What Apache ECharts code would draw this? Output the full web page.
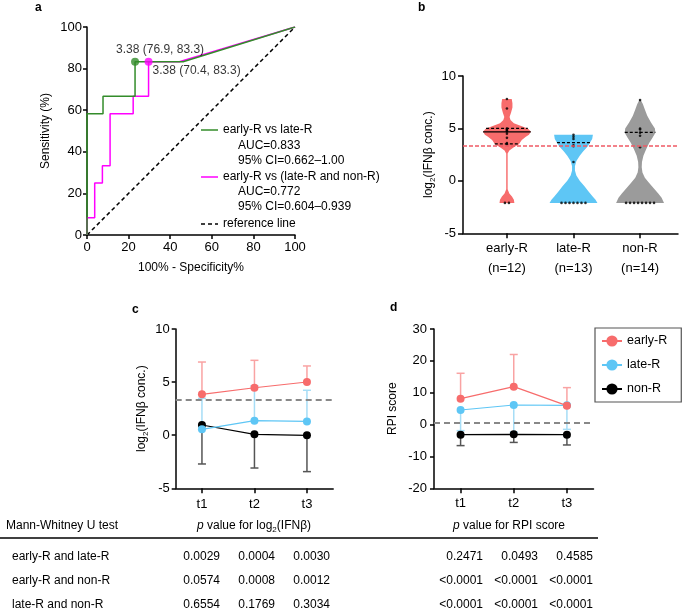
<!DOCTYPE html>
<html><head><meta charset="utf-8">
<script src="https://cdn.jsdelivr.net/npm/echarts@6/dist/echarts.min.js"></script>
<style>html,body{margin:0;padding:0;background:#fff}#c{width:685px;height:616px}</style>
</head><body><div id="c"></div>
<script>
// ---------------- DATA ----------------
// Panel a: ROC curves (x = 100% - specificity, y = sensitivity)
const rocGreenFpr  = [0, 0, 7.7, 7.7, 23.1, 23.1, 46.2, 100];
const rocGreenSens = [0, 58.3, 58.3, 66.7, 66.7, 83.3, 83.3, 100];
const rocMagFpr    = [0, 0, 3.7, 3.7, 7.4, 7.4, 11.1, 11.1, 22.2, 22.2, 29.6, 29.6, 44.4, 100];
const rocMagSens   = [0, 8.3, 8.3, 25, 25, 33.3, 33.3, 58.3, 58.3, 66.7, 66.7, 83.3, 83.3, 100];
const cutGreen = [23.1, 83.3];
const cutMag   = [29.6, 83.3];
const cutGreenLabel = '3.38 (76.9, 83.3)';
const cutMagLabel   = '3.38 (70.4, 83.3)';
const rocTicks = [0, 20, 40, 60, 80, 100];

// Panel b: violins
const violinCats = ['early-R\n(n=12)', 'late-R\n(n=13)', 'non-R\n(n=14)'];
const violinPos  = [1, 2, 3];
const earlyPts = [7.8, 6.9, 5.0, 4.9, 4.8, 4.7, 4.5, 4.1, 3.6, 3.5, -2.1, -2.1];
const latePts  = [4.4, 4.2, 4.0, 3.4, 3.3, 1.8, -2.1, -2.1, -2.1, -2.1, -2.1, -2.1, -2.1];
const nonPts   = [7.7, 5.0, 4.9, 4.6, 4.3, 3.2, -2.1, -2.1, -2.1, -2.1, -2.1, -2.1, -2.1, -2.1];
// relative density profiles [value, density]
const earlyDens = [[7.8,0.2],[7.4,0.23],[7.0,0.23],[6.5,0.17],[6.1,0.11],[5.8,0.15],[5.5,0.29],[5.2,0.62],[5.0,0.87],[4.7,1.0],[4.4,0.92],[4.2,0.79],[3.9,0.62],[3.5,0.5],[3.2,0.29],[2.9,0.1],[2.6,0.03],[-0.8,0.03],[-1.2,0.1],[-1.5,0.21],[-1.8,0.29],[-2.1,0.31]];
const lateDens  = [[4.4,0.81],[4.0,0.78],[3.6,0.68],[3.3,0.6],[2.8,0.4],[2.4,0.26],[1.9,0.12],[1.4,0.06],[1.0,0.06],[0.5,0.12],[0.0,0.26],[-0.5,0.45],[-1.0,0.62],[-1.5,0.8],[-1.8,0.92],[-2.1,1.0]];
const nonDens   = [[7.7,0.03],[7.3,0.12],[6.8,0.2],[6.2,0.3],[5.6,0.45],[5.0,0.62],[4.6,0.64],[4.1,0.52],[3.6,0.38],[3.0,0.25],[2.4,0.14],[1.8,0.08],[1.3,0.07],[0.8,0.1],[0.3,0.2],[-0.2,0.38],[-0.7,0.57],[-1.2,0.76],[-1.6,0.9],[-2.1,1.0]];
const earlyLines = [5.0, 4.68, 3.52];
const lateLines  = [3.64];
const nonLines   = [4.63];
const cutoffIfn  = 3.38;

// Panel c: log2(IFNb) over time
const timeCats = ['t1', 't2', 't3'];
const cEarlyMean = [3.85, 4.47, 5.01], cEarlyErr = [6.89, 7.05, 6.52];
const cLateMean  = [0.55, 1.37, 1.30], cLateErr  = [3.47, 4.66, 4.23];
const cNonMean   = [0.96, 0.08, -0.01], cNonErr  = [-2.71, -3.09, -3.43];

// Panel d: RPI score over time
const dEarlyMean = [8.13, 11.9, 5.93], dEarlyErr = [16.1, 22.0, 11.6];
const dLateMean  = [4.58, 6.15, 6.05], dLateErr  = [-1.9, -2.3, -1.5];
const dNonMean   = [-3.16, -3.05, -3.16], dNonErr = [-6.6, -5.6, -6.4];
const cutoffRpi  = 0.71;

// Table
const tableRowLabels = ['early-R and late-R', 'early-R and non-R', 'late-R and non-R'];
const pIfn = [['0.0029','0.0004','0.0030'],['0.0574','0.0008','0.0012'],['0.6554','0.1769','0.3034']];
const pRpi = [['0.2471','0.0493','0.4585'],['<0.0001','<0.0001','<0.0001'],['<0.0001','<0.0001','<0.0001']];

// ---------------- STYLE / BUILD ----------------
const FONT = 'Liberation Sans';
const RED = '#F76C6C', BLUE = '#5EC6F5', GRAY = '#9B9B9B';
const RED_L = '#F9A3A3', BLUE_L = '#A6DDF6', BLACK_L = '#555555';
const GREEN = '#338C2A', MAG = '#FF00FF';

const chart = echarts.init(document.getElementById('c'), null, {renderer: 'canvas'});
const zip = (a, b) => a.map((v, i) => [v, b[i]]);

const axLine = {show: true, onZero: false, lineStyle: {color: '#000', width: 1.5}};
const axTick = {show: true, length: 4, lineStyle: {color: '#000', width: 1.5}};
const lbl = (m) => ({fontSize: 13, color: '#000', fontFamily: FONT, margin: m});
const nameStyle = {fontSize: 12, color: '#000', fontFamily: FONT,
  rich: {s: {fontSize: 8, fontFamily: FONT, color: '#000', padding: [8, 0, 0, 0]}}};

const violinProfiles = [earlyDens, lateDens, nonDens];
const violinColors = [RED, BLUE, GRAY];
const violinLineSets = [earlyLines, lateLines, nonLines];
const violinSolid = [[false, true, false], [false], [false]];
const violinMaxHalf = 0.36;
function densAt(prof, y) {
  for (let i = 0; i < prof.length - 1; i++) {
    const [y0, d0] = prof[i], [y1, d1] = prof[i + 1];
    if (y <= y0 && y >= y1) { const t = (y0 - y) / (y0 - y1); return d0 + (d1 - d0) * t; }
  }
  return 0;
}
function jitter(vals, x) {
  const counts = {}, seen = {};
  vals.forEach(v => counts[v] = (counts[v] || 0) + 1);
  return vals.map(v => {
    const n = counts[v]; const k = (seen[v] = (seen[v] || 0) + 1) - 1;
    return [x + (k - (n - 1) / 2) * 0.06, v];
  });
}
const dots = [].concat(jitter(earlyPts, violinPos[0]), jitter(latePts, violinPos[1]), jitter(nonPts, violinPos[2]));

function errSeries(name, xi, yi, means, ends, color) {
  return {
    type: 'custom', name: name + '-err', xAxisIndex: xi, yAxisIndex: yi, z: 1, silent: true,
    data: means.map((m, i) => [i, m, ends[i]]),
    encode: {x: 0, y: [1, 2]},
    renderItem: function (params, api) {
      const p0 = api.coord([api.value(0), api.value(1)]);
      const p1 = api.coord([api.value(0), api.value(2)]);
      return {type: 'group', children: [
        {type: 'line', shape: {x1: p0[0], y1: p0[1], x2: p1[0], y2: p1[1]}, style: {stroke: color, lineWidth: 1.5}},
        {type: 'line', shape: {x1: p1[0] - 4, y1: p1[1], x2: p1[0] + 4, y2: p1[1]}, style: {stroke: color, lineWidth: 1.5}}
      ]};
    }
  };
}
function meanSeries(name, xi, yi, means, color, z) {
  return {type: 'line', name: name, xAxisIndex: xi, yAxisIndex: yi, z: z, data: means,
    symbol: 'circle', symbolSize: 8, itemStyle: {color: color}, lineStyle: {color: color, width: 1.2}};
}

const graphics = [];
const gText = (text, x, y, opt) => graphics.push(Object.assign({type: 'text', x: x, y: y, silent: true,
  style: Object.assign({text: text, fontSize: 12, fontFamily: FONT, fill: '#000', align: 'left', verticalAlign: 'middle',
    textAlign: 'left', textVerticalAlign: 'middle'}, opt || {})}));
// panel letters
gText('a', 35, 8, {fontWeight: 'bold'});
gText('b', 418, 8, {fontWeight: 'bold'});
gText('c', 132, 310, {fontWeight: 'bold'});
gText('d', 390, 308, {fontWeight: 'bold'});
// panel a legend
const legLine = (y, color, dash) => graphics.push({type: 'line', silent: true,
  shape: {x1: 201, y1: y, x2: 218, y2: y}, style: {stroke: color, lineWidth: 1.5, lineDash: dash || null}});
legLine(130, GREEN); gText('early-R vs late-R', 223, 130);
gText('AUC=0.833', 238, 146); gText('95% CI=0.662\u20131.00', 238, 161);
legLine(177, MAG); gText('early-R vs (late-R and non-R)', 223, 177);
gText('AUC=0.772', 238, 192); gText('95% CI=0.604\u20130.939', 238, 207);
legLine(224, '#000', [4, 3]); gText('reference line', 223, 224);
// table
const richHdr = {i: {fontStyle: 'italic', fontSize: 12, fontFamily: FONT},
  s: {fontSize: 8, fontFamily: FONT, padding: [8, 0, 0, 0]}};
gText('Mann-Whitney U test', 6, 526);
gText('{i|p} value for log{s|2}(IFN\u03b2)', 254, 526, {align: 'center', textAlign: 'center', rich: richHdr});
gText('{i|p} value for RPI score', 509, 526, {align: 'center', textAlign: 'center', rich: richHdr});
graphics.push({type: 'line', silent: true, shape: {x1: 0, y1: 538, x2: 598, y2: 538}, style: {stroke: '#000', lineWidth: 1.5}});
const rowY = [557, 581, 605];
const colL = [220, 275, 330], colR = [483, 538, 593];
tableRowLabels.forEach((t, r) => {
  gText(t, 12, rowY[r]);
  pIfn[r].forEach((v, c) => gText(v, colL[c], rowY[r], {align: 'right', textAlign: 'right'}));
  pRpi[r].forEach((v, c) => gText(v, colR[c], rowY[r], {align: 'right', textAlign: 'right'}));
});

const option = {
  animation: false,
  textStyle: {fontFamily: FONT, color: '#000'},
  grid: [
    {left: 87, top: 27, width: 208, height: 208},
    {left: 463, top: 76, width: 215, height: 157.3},
    {left: 175.7, top: 329, width: 157.5, height: 159.3},
    {left: 434, top: 329, width: 159.5, height: 159.3}
  ],
  xAxis: [
    {gridIndex: 0, type: 'value', min: rocTicks[0], max: rocTicks[rocTicks.length - 1], interval: 20,
      axisLine: axLine, axisTick: axTick, splitLine: {show: false}, axisLabel: lbl(6),
      name: '100% - Specificity%', nameLocation: 'middle', nameGap: 27, nameTextStyle: nameStyle},
    {gridIndex: 1, type: 'value', min: 0.34, max: 3.57,
      axisLine: axLine, axisTick: Object.assign({customValues: violinPos}, axTick, {length: 5}), splitLine: {show: false},
      axisLabel: Object.assign(lbl(5), {customValues: violinPos, lineHeight: 20,
        formatter: v => violinCats[violinPos.indexOf(Math.round(v))] || ''})},
    {gridIndex: 2, type: 'category', data: timeCats, boundaryGap: true,
      axisLine: axLine, axisTick: Object.assign({alignWithLabel: true}, axTick, {length: 5}), axisLabel: lbl(10)},
    {gridIndex: 3, type: 'category', data: timeCats, boundaryGap: true,
      axisLine: axLine, axisTick: Object.assign({alignWithLabel: true}, axTick, {length: 5}), axisLabel: lbl(9)}
  ],
  yAxis: [
    {gridIndex: 0, type: 'value', min: 0, max: 100, interval: 20,
      axisLine: axLine, axisTick: axTick, splitLine: {show: false}, axisLabel: lbl(5),
      name: 'Sensitivity (%)', nameLocation: 'middle', nameGap: 35, nameTextStyle: nameStyle},
    {gridIndex: 1, type: 'value', min: -5, max: 10, interval: 5,
      axisLine: axLine, axisTick: Object.assign({}, axTick, {length: 5}), splitLine: {show: false}, axisLabel: lbl(7),
      name: 'log{s|2}(IFN\u03b2 conc.)', nameLocation: 'middle', nameGap: 26, nameTextStyle: nameStyle},
    {gridIndex: 2, type: 'value', min: -5, max: 10, interval: 5,
      axisLine: axLine, axisTick: axTick, splitLine: {show: false}, axisLabel: lbl(6),
      name: 'log{s|2}(IFN\u03b2 conc.)', nameLocation: 'middle', nameGap: 26, nameTextStyle: nameStyle},
    {gridIndex: 3, type: 'value', min: -20, max: 30, interval: 10,
      axisLine: axLine, axisTick: axTick, splitLine: {show: false}, axisLabel: lbl(7),
      name: 'RPI score', nameLocation: 'middle', nameGap: 35, nameTextStyle: nameStyle}
  ],
  legend: {data: ['early-R', 'late-R', 'non-R'], orient: 'vertical', left: 595, top: 328,
    padding: [6, 14, 6, 6], itemGap: 10, itemWidth: 20, itemHeight: 14,
    borderColor: '#555', borderWidth: 1.2, selectedMode: false,
    textStyle: {fontSize: 12.5, color: '#000', fontFamily: FONT, lineHeight: 14}},
  graphic: {elements: graphics},
  series: [
    // ---- panel a ----
    {type: 'line', name: 'ref', xAxisIndex: 0, yAxisIndex: 0, data: [[0, 0], [100, 100]], symbol: 'none',
      lineStyle: {color: '#000', width: 1.5, type: [4, 3]}, z: 1},
    {type: 'line', name: 'mag', xAxisIndex: 0, yAxisIndex: 0, data: zip(rocMagFpr, rocMagSens), symbol: 'none',
      lineStyle: {color: MAG, width: 1.5}, z: 2},
    {type: 'line', name: 'green', xAxisIndex: 0, yAxisIndex: 0, data: zip(rocGreenFpr, rocGreenSens), symbol: 'none',
      lineStyle: {color: GREEN, width: 1.5}, z: 3},
    {type: 'scatter', name: 'cutG', xAxisIndex: 0, yAxisIndex: 0, data: [cutGreen], symbolSize: 8, z: 4,
      itemStyle: {color: GREEN},
      label: {show: true, formatter: cutGreenLabel, position: 'top', offset: [25, 3], fontSize: 12, color: '#000', fontFamily: FONT}},
    {type: 'scatter', name: 'cutM', xAxisIndex: 0, yAxisIndex: 0, data: [cutMag], symbolSize: 8, z: 4,
      itemStyle: {color: MAG},
      label: {show: true, formatter: cutMagLabel, position: 'right', offset: [-5, 9], fontSize: 12, color: '#000', fontFamily: FONT}},
    // ---- panel b ----
    {type: 'custom', name: 'violin', xAxisIndex: 1, yAxisIndex: 1, z: 2, silent: true,
      data: violinPos.map(p => [p, 0]),
      renderItem: function (params, api) {
        const i = params.dataIndex, x = api.value(0), prof = violinProfiles[i];
        const right = prof.map(([y, d]) => api.coord([x + Math.max(d, 0.02) * violinMaxHalf, y]));
        const left = prof.slice().reverse().map(([y, d]) => api.coord([x - Math.max(d, 0.02) * violinMaxHalf, y]));
        const ch = [{type: 'polygon', shape: {points: right.concat(left)}, style: {fill: violinColors[i]}}];
        violinLineSets[i].forEach((v, k) => {
          const d = densAt(prof, v) * violinMaxHalf;
          const a = api.coord([x - d, v]), b = api.coord([x + d, v]);
          ch.push({type: 'line', shape: {x1: a[0], y1: a[1], x2: b[0], y2: b[1]},
            style: {stroke: '#000', lineWidth: 1.2, lineDash: violinSolid[i][k] ? null : [3, 2]}});
        });
        return {type: 'group', children: ch};
      }},
    {type: 'scatter', name: 'dots', xAxisIndex: 1, yAxisIndex: 1, data: dots, symbolSize: 2.6, z: 3,
      itemStyle: {color: '#000'},
      markLine: {silent: true, symbol: 'none', data: [{yAxis: cutoffIfn}], label: {show: false},
        lineStyle: {color: '#F05A64', type: [4, 2], width: 1.5}}},
    // ---- panel c ----
    errSeries('non-R', 2, 2, cNonMean, cNonErr, BLACK_L),
    errSeries('late-R', 2, 2, cLateMean, cLateErr, BLUE_L),
    errSeries('early-R', 2, 2, cEarlyMean, cEarlyErr, RED_L),
    Object.assign(meanSeries('non-R', 2, 2, cNonMean, '#000', 3), {
      markLine: {silent: true, symbol: 'none', data: [{yAxis: cutoffIfn}], label: {show: false},
        lineStyle: {color: '#888', type: [6, 4], width: 2}}}),
    meanSeries('late-R', 2, 2, cLateMean, BLUE, 4),
    meanSeries('early-R', 2, 2, cEarlyMean, RED, 5),
    // ---- panel d ----
    errSeries('non-R', 3, 3, dNonMean, dNonErr, BLACK_L),
    errSeries('late-R', 3, 3, dLateMean, dLateErr, BLUE_L),
    errSeries('early-R', 3, 3, dEarlyMean, dEarlyErr, RED_L),
    Object.assign(meanSeries('non-R', 3, 3, dNonMean, '#000', 3), {
      markLine: {silent: true, symbol: 'none', data: [{yAxis: cutoffRpi}], label: {show: false},
        lineStyle: {color: '#888', type: [6, 4], width: 2}}}),
    meanSeries('late-R', 3, 3, dLateMean, BLUE, 4),
    meanSeries('early-R', 3, 3, dEarlyMean, RED, 5)
  ]
};
chart.setOption(option);
</script></body></html>
